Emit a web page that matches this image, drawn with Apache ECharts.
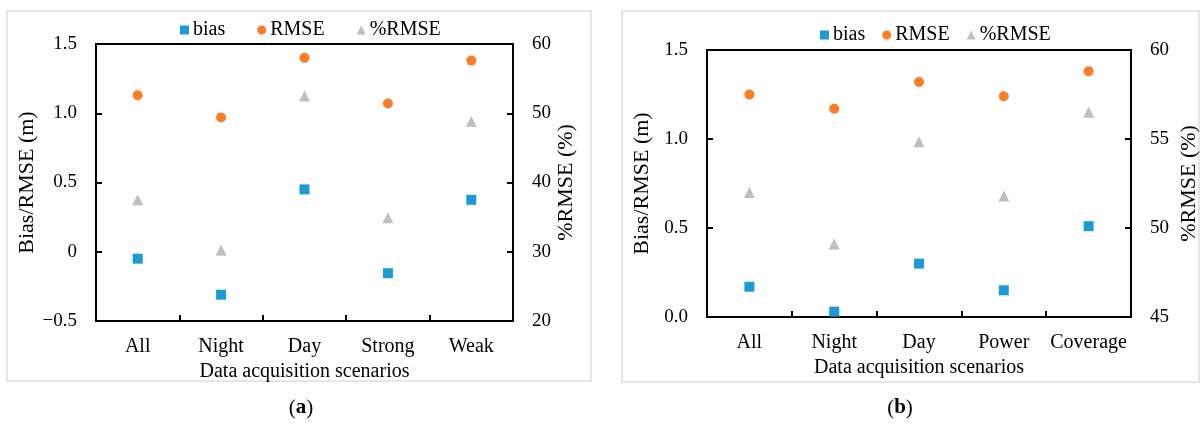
<!DOCTYPE html>
<html>
<head>
<meta charset="utf-8">
<script src="https://cdn.jsdelivr.net/npm/echarts@6/dist/echarts.min.js"></script>
<style>
html,body{margin:0;padding:0;background:#fff;}
#chart{width:1201px;height:428px;}
</style>
</head>
<body>
<div id="chart"></div>
<script>
// ---- Data (panel a) ----
const categoriesA = ['All', 'Night', 'Day', 'Strong', 'Weak'];
const biasA = [-0.05, -0.31, 0.45, -0.155, 0.375];
const rmseA = [1.13, 0.97, 1.40, 1.07, 1.38];
const pctRmseA = [37.5, 30.2, 52.5, 34.9, 48.8];
const yTicksA = ['\u22120.5', '0', '0.5', '1.0', '1.5'];
const y2TicksA = ['20', '30', '40', '50', '60'];

// ---- Data (panel b) ----
const categoriesB = ['All', 'Night', 'Day', 'Power', 'Coverage'];
const biasB = [0.17, 0.03, 0.30, 0.15, 0.51];
const rmseB = [1.25, 1.17, 1.32, 1.24, 1.38];
const pctRmseB = [52.0, 49.1, 54.85, 51.8, 56.5];
const yTicksB = ['0.0', '0.5', '1.0', '1.5'];
const y2TicksB = ['45', '50', '55', '60'];

const seriesNames = ['bias', 'RMSE', '%RMSE'];
const xTitle = 'Data acquisition scenarios';
const yTitle = 'Bias/RMSE (m)';
const y2Title = '%RMSE (%)';

const FONT = 'Liberation Serif, Times New Roman, serif';
const C_BIAS = '#1C9AD6';
const C_RMSE = '#FB7D25';
const C_PCT = '#BFBFBF';

const chart = echarts.init(document.getElementById('chart'), null, {renderer: 'canvas'});

function xAxisCfg(gridIndex, cats) {
  return {
    type: 'category', gridIndex: gridIndex, data: cats, position: 'bottom',
    name: xTitle, nameLocation: 'middle', nameGap: 34,
    nameTextStyle: {fontFamily: FONT, fontSize: 20, color: '#000'},
    axisLine: {show: true, onZero: false, lineStyle: {color: '#000', width: 2}},
    axisTick: {show: true, inside: true, length: 6, lineStyle: {color: '#000', width: 2}},
    axisLabel: {fontFamily: FONT, fontSize: 20, color: '#000', margin: 16, interval: 0},
    splitLine: {show: false}
  };
}
function yAxisCfg(gridIndex, min, max, interval, ticks, right, name, gap) {
  return {
    type: 'value', gridIndex: gridIndex, min: min, max: max, interval: interval,
    position: right ? 'right' : 'left',
    name: name, nameLocation: 'middle', nameGap: gap, nameRotate: 90,
    nameTextStyle: {fontFamily: FONT, fontSize: 22, color: '#000'},
    axisLine: {show: true, onZero: false, lineStyle: {color: '#000', width: 2}},
    axisTick: {show: true, inside: true, length: 6, lineStyle: {color: '#000', width: 2}},
    axisLabel: {fontFamily: FONT, fontSize: 19, color: '#000', margin: 19,
      formatter: function (v, i) { return ticks[i] !== undefined ? ticks[i] : String(v); }},
    splitLine: {show: false}
  };
}
function sc(name, xi, yi, data, color, symbol, size) {
  return {
    type: 'scatter', name: name, xAxisIndex: xi, yAxisIndex: yi, data: data,
    symbol: symbol, symbolSize: size, itemStyle: {color: color, opacity: 1},
    emphasis: {disabled: true}
  };
}
function legendCfg(left, top, gap) {
  return {
    left: left, top: top, itemGap: gap, itemWidth: 9, itemHeight: 9,
    textStyle: {fontFamily: FONT, fontSize: 20, color: '#000', padding: [0, 0, 0, -1]},
    data: [
      {name: seriesNames[0], icon: 'rect'},
      {name: seriesNames[1], icon: 'circle'},
      {name: seriesNames[2], icon: 'triangle'}
    ]
  };
}

const option = {
  backgroundColor: '#fff',
  animation: false,
  legend: [legendCfg(175, 15, 32), legendCfg(815, 20, 17)],
  grid: [
    {left: 96, top: 44, width: 417, height: 277, show: true, borderColor: '#000', borderWidth: 2, backgroundColor: 'rgba(0,0,0,0)'},
    {left: 707, top: 50, width: 425, height: 267, show: true, borderColor: '#000', borderWidth: 2, backgroundColor: 'rgba(0,0,0,0)'}
  ],
  xAxis: [xAxisCfg(0, categoriesA), xAxisCfg(1, categoriesB)],
  yAxis: [
    yAxisCfg(0, -0.5, 1.5, 0.5, yTicksA, false, yTitle, 57),
    yAxisCfg(0, 20, 60, 10, y2TicksA, true, y2Title, 39),
    yAxisCfg(1, 0, 1.5, 0.5, yTicksB, false, yTitle, 54),
    yAxisCfg(1, 45, 60, 5, y2TicksB, true, y2Title, 47)
  ],
  series: [
    sc(seriesNames[0], 0, 0, biasA, C_BIAS, 'rect', 10),
    sc(seriesNames[1], 0, 0, rmseA, C_RMSE, 'circle', 10),
    sc(seriesNames[2], 0, 1, pctRmseA, C_PCT, 'triangle', 11),
    sc(seriesNames[0], 1, 2, biasB, C_BIAS, 'rect', 10),
    sc(seriesNames[1], 1, 2, rmseB, C_RMSE, 'circle', 10),
    sc(seriesNames[2], 1, 3, pctRmseB, C_PCT, 'triangle', 11)
  ],
  graphic: [
    {type: 'rect', silent: true, shape: {x: 7, y: 11, width: 584, height: 370},
     style: {fill: 'none', stroke: '#E6E6E6', lineWidth: 2}},
    {type: 'rect', silent: true, shape: {x: 622, y: 11, width: 577, height: 371},
     style: {fill: 'none', stroke: '#E6E6E6', lineWidth: 2}},
    {type: 'text', silent: true, x: 301, y: 408,
     style: {text: '({b|a})', font: '21px ' + FONT, fill: '#000', align: 'center', verticalAlign: 'middle',
       rich: {b: {fontWeight: 'bold', fontSize: 21, fontFamily: FONT}}}},
    {type: 'text', silent: true, x: 900, y: 408,
     style: {text: '({b|b})', font: '21px ' + FONT, fill: '#000', align: 'center', verticalAlign: 'middle',
       rich: {b: {fontWeight: 'bold', fontSize: 21, fontFamily: FONT}}}}
  ]
};
chart.setOption(option);
</script>
</body>
</html>
